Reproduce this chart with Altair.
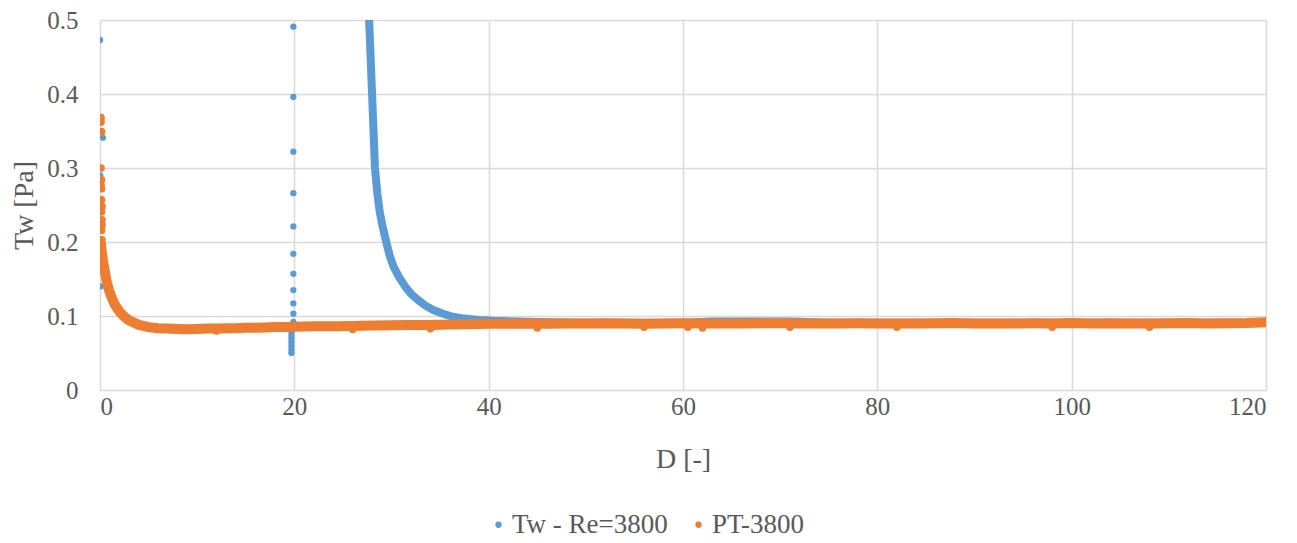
import altair as alt
import pandas as pd

BLUE = "Tw - Re=3800"
ORANGE = "PT-3800"

# ---- PT-3800 (orange) continuous band of points ----
orange_band_x = [0.15, 0.3, 0.5, 0.7, 0.9, 1.2, 1.5, 2.0, 2.5, 3.0, 3.5, 4.0, 5.0, 6.0,
                 7, 8, 9, 10, 11, 12, 13, 14, 15, 16, 17, 18, 19, 20,
                 22, 24, 26, 28, 30, 32, 34, 36, 38, 40,
                 42, 44, 46, 48, 50, 52, 54, 56, 58, 60,
                 62, 64, 66, 68, 70, 72, 74, 76, 78, 80,
                 82, 84, 86, 88, 90, 92, 94, 96, 98, 100,
                 102, 104, 106, 108, 110, 112, 114, 116, 118, 120]
orange_band_y = [0.19, 0.175, 0.16, 0.146, 0.136, 0.125, 0.116, 0.106, 0.099, 0.094, 0.091, 0.088, 0.085, 0.0835,
                 0.083, 0.0825, 0.082, 0.0825, 0.083, 0.083, 0.0835, 0.0835, 0.084, 0.084, 0.0845, 0.085, 0.085, 0.0855,
                 0.086, 0.086, 0.0865, 0.087, 0.0875, 0.088, 0.088, 0.0885, 0.089, 0.0895,
                 0.0895, 0.09, 0.0895, 0.09, 0.0898, 0.0902, 0.09, 0.0895, 0.09, 0.0902,
                 0.09, 0.0898, 0.09, 0.0902, 0.0905, 0.09, 0.0898, 0.09, 0.0902, 0.09,
                 0.0898, 0.09, 0.0902, 0.0905, 0.09, 0.0898, 0.09, 0.0902, 0.09, 0.0905,
                 0.09, 0.0902, 0.0898, 0.09, 0.0902, 0.0905, 0.09, 0.0902, 0.0905, 0.0915]

# ---- PT-3800 isolated points (start of the series and small dips) ----
orange_dot_x = [0.1, 0.1, 0.15, 0.1, 0.15, 0.1, 0.15, 0.15, 0.2, 0.15, 0.2, 0.2, 0.15, 0.2, 0.25,
                12, 26, 34, 45, 56, 60.5, 62, 71, 82, 98, 108, 120]
orange_dot_y = [0.368, 0.362, 0.349, 0.300, 0.284, 0.277, 0.272, 0.257, 0.248, 0.241, 0.230, 0.223, 0.216, 0.203, 0.196,
                0.080, 0.082, 0.083, 0.084, 0.085, 0.085, 0.084, 0.085, 0.085, 0.085, 0.085, 0.0925]

# ---- Tw - Re=3800 (blue) band after the second inlet ----
blue_band_x = [27.7, 27.85, 28.0, 28.15, 28.3, 28.55, 28.8, 29.1, 29.5, 29.8, 30.2, 30.8, 31.4, 32.0, 32.7,
               33.5, 34.3, 35.3, 36.3, 37.5, 39.0, 40.5, 45, 50, 55, 60, 63, 66, 69, 71, 75, 80, 90, 100, 110, 120]
blue_band_y = [0.5, 0.45, 0.40, 0.35, 0.30, 0.265, 0.24, 0.22, 0.198, 0.182, 0.167, 0.152, 0.14, 0.13, 0.122,
               0.114, 0.108, 0.103, 0.099, 0.0965, 0.0945, 0.0935, 0.092, 0.091, 0.091, 0.091, 0.0925, 0.0925,
               0.0925, 0.0925, 0.091, 0.091, 0.091, 0.091, 0.091, 0.091]

# ---- Tw - Re=3800 isolated points ----
blue_dot_x = [0.0, 0.3, 0.02, 0.02, 0.03, 0.05,
              19.9, 19.9, 19.9, 19.9, 19.9, 19.9, 19.9, 19.9, 19.9, 19.9, 19.9,
              19.7, 19.7, 19.7, 19.7, 19.7, 19.7, 19.7, 19.7]
blue_dot_y = [0.473, 0.341, 0.29, 0.24, 0.19, 0.14,
              0.491, 0.396, 0.322, 0.266, 0.221, 0.184, 0.157, 0.135, 0.117, 0.103, 0.092,
              0.085, 0.08, 0.075, 0.07, 0.065, 0.06, 0.055, 0.05]

orange_band = pd.DataFrame({"x": orange_band_x, "y": orange_band_y, "series": ORANGE})
orange_dots = pd.DataFrame({"x": orange_dot_x, "y": orange_dot_y, "series": ORANGE})
blue_band = pd.DataFrame({"x": blue_band_x, "y": blue_band_y, "series": BLUE})
blue_dots = pd.DataFrame({"x": blue_dot_x, "y": blue_dot_y, "series": BLUE})

FONT = "Liberation Serif"
TXT = "#595959"
GRID = "#D9D9D9"
C_BLUE = "#5B9BD5"
C_ORANGE = "#ED7D31"

color_scale = alt.Scale(domain=[BLUE, ORANGE], range=[C_BLUE, C_ORANGE])

x_enc = alt.X("x:Q", scale=alt.Scale(domain=[0, 120], nice=False),
              axis=alt.Axis(values=[0, 20, 40, 60, 80, 100, 120], title="D [-]",
                            grid=True, gridColor=GRID, gridWidth=1.5, domain=False, ticks=False,
                            labelFont=FONT, labelFontSize=25, labelColor=TXT, labelPadding=4,
                            titleFont=FONT, titleFontSize=28, titleColor=TXT, titleFontWeight="normal",
                            titlePadding=26))
y_enc = alt.Y("y:Q", scale=alt.Scale(domain=[0, 0.5], nice=False),
              axis=alt.Axis(values=[0, 0.1, 0.2, 0.3, 0.4, 0.5], title="Tw [Pa]", format="~g",
                            grid=True, gridColor=GRID, gridWidth=1.5, domain=False, ticks=False,
                            labelFont=FONT, labelFontSize=25, labelColor=TXT, labelPadding=22,
                            titleFont=FONT, titleFontSize=28, titleColor=TXT, titleFontWeight="normal",
                            titlePadding=8))

col_legend = alt.Color("series:N", scale=color_scale, sort=[BLUE, ORANGE],
                       legend=alt.Legend(title=None, orient="none", direction="horizontal",
                                         legendX=385, legendY=491,
                                         symbolType="circle", symbolSize=40, symbolStrokeWidth=0,
                                         labelFont=FONT, labelFontSize=27, labelColor=TXT,
                                         columnPadding=17, labelOffset=0))

blue_line = alt.Chart(blue_band).mark_line(color=C_BLUE, strokeWidth=8, strokeCap="round",
                                           strokeJoin="round", clip=True).encode(x=x_enc, y=y_enc)
blue_pts = alt.Chart(blue_dots).mark_circle(size=40, opacity=1, clip=True).encode(
    x=x_enc, y=y_enc, color=col_legend)
orange_line = alt.Chart(orange_band).mark_line(color=C_ORANGE, strokeWidth=10, strokeCap="round",
                                               strokeJoin="round", clip=True).encode(x=x_enc, y=y_enc)
orange_pts = alt.Chart(orange_dots).mark_circle(size=60, opacity=1, clip=True).encode(
    x=x_enc, y=y_enc, color=col_legend)

chart = alt.layer(blue_line, blue_pts, orange_line, orange_pts).properties(
    width=1166, height=370,
    autosize=alt.AutoSizeParams(type="none"),
    padding={"left": 92, "top": 12, "right": 23, "bottom": 150},
).configure_view(stroke=None).configure(background="white")

chart.save("out.html", embed_options={"renderer": "svg", "actions": False})
